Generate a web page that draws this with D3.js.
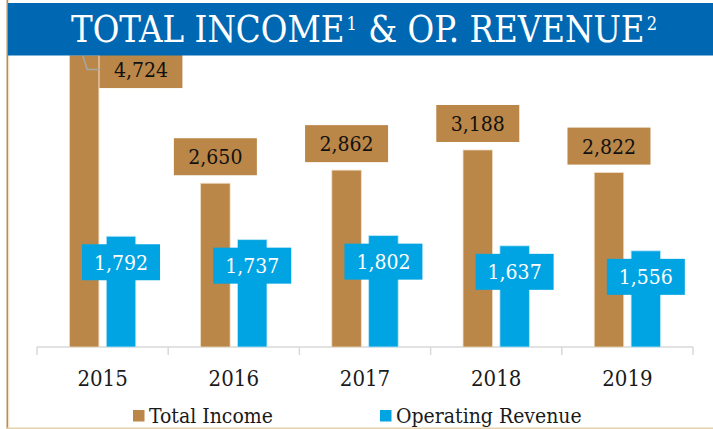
<!DOCTYPE html>
<html>
<head>
<meta charset="utf-8">
<script src="https://cdn.jsdelivr.net/npm/d3@7"></script>
<style>
  body { margin: 0; background: #fff; }
  svg { display: block; }
</style>
</head>
<body>
<div id="chart"></div>
<script>
// data
var years = ["2015", "2016", "2017", "2018", "2019"]
var totalIncome = [4724, 2650, 2862, 3188, 2822]
var opRevenue = [1792, 1737, 1802, 1637, 1556]
var seriesNames = ["Total Income", "Operating Revenue"]

var width = 713
var height = 429
var baseY = 347
var titleBottom = 55.5
var serif = "'DejaVu Serif Condensed', 'Liberation Serif', 'DejaVu Serif', serif"

var brown = "#BB8748"
var blue = "#00A4E2"

var rows = years.map(function(y, i) {
  return { year: y, values: [
    { key: "total", name: seriesNames[0], value: totalIncome[i] },
    { key: "op", name: seriesNames[1], value: opRevenue[i] }
  ]}
})

var svg = d3.select("#chart")
  .append("svg")
    .attr("width", width)
    .attr("height", height)

// scales
var x = d3.scaleBand()
  .domain(years)
  .range([37, 693])
  .padding(0)

var xSub = d3.scaleBand()
  .domain(["total", "op"])
  .range([0, x.bandwidth()])
  .paddingInner(0.2)
  .paddingOuter(0.88)

var y = d3.scaleLinear()
  .domain([0, 5000])
  .range([baseY, 38])

var color = d3.scaleOrdinal()
  .domain(["total", "op"])
  .range([brown, blue])

// frame lines
svg.append("line")
  .attr("x1", 7.3).attr("x2", 7.3).attr("y1", 0).attr("y2", height)
  .attr("stroke", "#C08A4F").attr("stroke-width", 1.6)
svg.append("line")
  .attr("x1", 8.8).attr("x2", 8.8).attr("y1", 0).attr("y2", height)
  .attr("stroke", "#F0DEC4").attr("stroke-width", 1)
svg.append("line")
  .attr("x1", 7).attr("x2", width).attr("y1", 428.3).attr("y2", 428.3)
  .attr("stroke", "#E6D2AE").attr("stroke-width", 1.5)

// x axis: baseline with ticks between categories
var axisG = svg.append("g")
  .attr("transform", "translate(0," + baseY + ")")
axisG.append("line")
  .attr("x1", x.range()[0]).attr("x2", x.range()[1])
  .attr("stroke", "#D9D9D9").attr("stroke-width", 1.5)
var tickXs = years.map(function(d) { return x(d) }).concat([x.range()[1]])
axisG.selectAll(".tick")
  .data(tickXs)
  .enter().append("line")
    .attr("x1", function(d) { return d }).attr("x2", function(d) { return d })
    .attr("y1", 0).attr("y2", 8)
    .attr("stroke", "#D9D9D9").attr("stroke-width", 1.5)

axisG.selectAll(".year")
  .data(years)
  .enter().append("text")
    .attr("x", function(d) { return x(d) + x.bandwidth() / 2 })
    .attr("y", 39)
    .attr("text-anchor", "middle")
    .style("font-family", serif)
    .style("font-size", "22px")
    .attr("fill", "#1a1a1a")
    .text(function(d) { return d })

// bars
var groups = svg.append("g")
  .selectAll("g")
  .data(rows)
  .enter().append("g")
    .attr("transform", function(d) { return "translate(" + x(d.year) + ",0)" })

groups.selectAll("rect")
  .data(function(d) { return d.values })
  .enter().append("rect")
    .attr("x", function(d) { return xSub(d.key) })
    .attr("y", function(d) { return y(d.value) })
    .attr("width", xSub.bandwidth())
    .attr("height", function(d) { return baseY - y(d.value) })
    .attr("fill", function(d) { return color(d.key) })
    .attr("stroke", function(d) { return d.key == "total" ? "#EFDCC4" : "#BDE6F7" })
    .attr("stroke-width", 0.8)

// data labels (boxes filled with series colour)
var fmt = d3.format(",")
groups.each(function(row) {
  var g = d3.select(this)
  row.values.forEach(function(d) {
    var cx = xSub(d.key) + xSub.bandwidth() / 2
    var top = y(d.value)
    var lbl = g.append("g")
    var rect = lbl.append("rect").attr("fill", color(d.key))
    var txt = lbl.append("text")
      .attr("text-anchor", "middle")
      .style("font-family", serif)
      .style("font-size", "21px")
      .attr("fill", d.key == "total" ? "#111" : "#fff")
      .text(fmt(d.value))
    var tw = txt.node().getComputedTextLength()
    var bw = d.key == "total" ? 83 : 78
    var bh = d.key == "total" ? 37 : 36
    var bcx = cx
    var bcy = d.key == "total" ? top - 8 - bh / 2 : top + 8 + bh / 2
    // label would sit under the title: move it beside the bar with a leader line
    if (d.key == "total" && bcy - bh / 2 < titleBottom) {
      var barRight = xSub(d.key) + xSub.bandwidth()
      bcx = barRight + 0.5 + bw / 2
      bcy = top + 14.5
      g.append("polyline")
        .attr("points", [[cx - 1.5, top], [cx + 3, bcy], [barRight + 0.5, bcy]].map(function(p) { return p.join(",") }).join(" "))
        .attr("fill", "none")
        .attr("stroke", "#A6A6A6")
        .attr("stroke-width", 1.5)
    }
    rect.attr("x", bcx - bw / 2).attr("y", bcy - bh / 2)
      .attr("width", bw).attr("height", bh)
    if (tw > bw - 16) txt.attr("textLength", bw - 16).attr("lengthAdjust", "spacingAndGlyphs")
    txt.attr("x", bcx).attr("y", bcy + 7.5)
  })
})

// title bar
svg.append("rect")
  .attr("x", 8).attr("y", 3)
  .attr("width", width - 8).attr("height", titleBottom - 3)
  .attr("fill", "#0068B2")

// title pieces laid out one after another, then squeezed to the reference width
var titleParts = [
  { t: "TOTAL INCOME", sup: false },
  { t: "1", sup: true },
  { t: "&  OP. REVENUE", sup: false },
  { t: "2", sup: true }
]
var titleG = svg.append("g")
var cursor = 0
titleParts.forEach(function(p, i) {
  var el = titleG.append("text")
    .attr("x", cursor)
    .attr("y", p.sup ? -12 : 0)
    .style("font-family", serif)
    .style("font-size", p.sup ? "19px" : "38px")
    .attr("fill", "#fff")
    .text(p.t)
  cursor += el.node().getComputedTextLength() + (p.sup ? 12 : 2)
})
cursor -= 12
var titleScale = 586 / cursor
titleG.attr("transform", "translate(71,41.7) scale(" + titleScale + ",1)")

// legend
var legendX = [133, 380]
var legend = svg.append("g")
  .selectAll("g")
  .data(["total", "op"])
  .enter().append("g")
    .attr("transform", function(d, i) { return "translate(" + legendX[i] + ",0)" })
legend.append("rect")
  .attr("x", 0).attr("y", 410)
  .attr("width", 11.5).attr("height", 11.5)
  .attr("fill", function(d) { return color(d) })
legend.append("text")
  .attr("x", 16).attr("y", 423)
  .style("font-family", serif)
  .style("font-size", "21px")
  .attr("fill", "#1a1a1a")
  .text(function(d, i) { return seriesNames[i] })
</script>
</body>
</html>
